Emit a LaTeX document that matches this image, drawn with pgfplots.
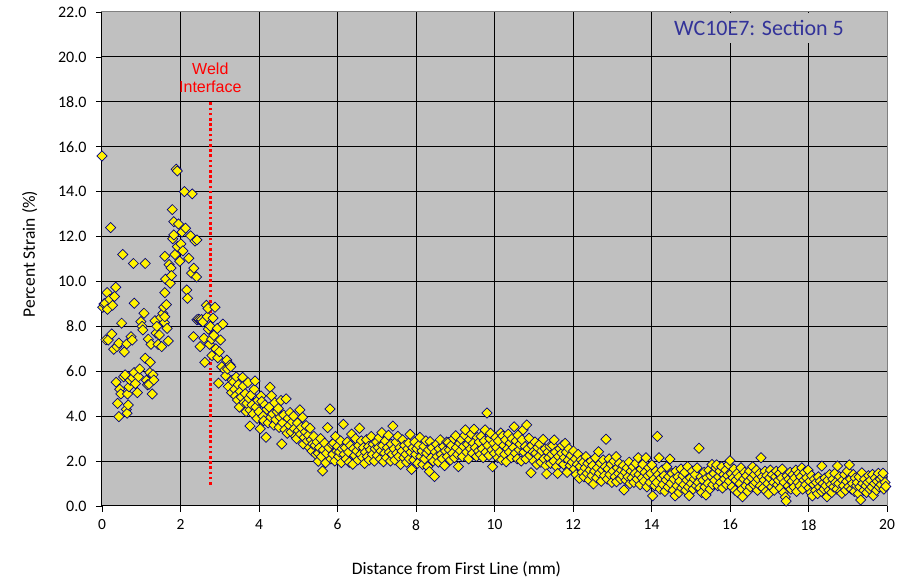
\documentclass[border=0pt]{standalone}
\usepackage{pgfplots}
\pgfplotsset{compat=1.18}
\usepackage{pgfplotstable}
\usepackage{fontspec}
\setmainfont{Carlito}
\newfontfamily\arialfont{Liberation Sans}

\definecolor{plotbg}{RGB}{192,192,192}
\definecolor{framegray}{RGB}{128,128,128}
\definecolor{marknavy}{RGB}{0,0,128}
\definecolor{titleblue}{RGB}{51,51,153}

% strain readings along the line, x in mm, y in percent
\pgfplotstableread{
x y
0.00 15.59
0.02 8.85
0.05 9.00
0.08 9.03
0.10 7.40
0.13 9.50
0.14 8.76
0.16 7.39
0.20 9.20
0.22 12.40
0.25 7.66
0.27 8.94
0.30 6.98
0.32 9.33
0.35 9.74
0.36 5.51
0.38 7.10
0.40 4.57
0.43 7.25
0.43 3.98
0.45 5.20
0.48 4.99
0.50 8.14
0.53 11.20
0.55 5.75
0.57 6.86
0.59 5.84
0.62 4.30
0.63 7.22
0.64 4.13
0.65 4.99
0.67 4.50
0.69 5.31
0.72 5.60
0.74 7.54
0.77 7.39
0.78 5.71
0.80 10.80
0.82 9.03
0.82 5.94
0.85 5.45
0.90 5.05
0.93 5.76
0.96 6.10
0.99 8.21
1.02 8.00
1.04 7.84
1.07 8.58
1.10 10.80
1.10 6.58
1.13 5.60
1.16 5.40
1.18 7.43
1.20 5.42
1.22 5.94
1.23 6.40
1.25 7.20
1.28 4.99
1.30 5.85
1.32 5.61
1.35 8.25
1.38 7.70
1.40 8.00
1.43 7.20
1.46 7.62
1.50 8.40
1.52 7.10
1.55 8.58
1.57 8.85
1.59 8.17
1.60 9.50
1.60 8.43
1.60 11.12
1.62 10.10
1.64 8.97
1.66 7.91
1.69 7.35
1.71 10.75
1.74 9.92
1.76 10.60
1.77 10.26
1.79 13.20
1.80 11.90
1.83 12.66
1.83 12.07
1.86 11.20
1.89 15.00
1.92 14.92
1.92 11.55
1.95 12.56
1.98 10.90
2.01 11.67
2.04 12.20
2.06 11.36
2.10 14.00
2.13 12.37
2.16 9.62
2.18 9.25
2.21 11.03
2.26 12.03
2.28 10.37
2.30 13.90
2.33 7.54
2.34 10.59
2.37 11.80
2.41 10.20
2.42 11.85
2.42 8.29
2.45 8.32
2.48 8.30
2.50 7.10
2.52 8.26
2.54 8.30
2.57 8.20
2.60 7.47
2.62 6.40
2.66 8.94
2.68 8.43
2.70 8.80
2.71 7.88
2.74 7.20
2.76 8.00
2.79 7.43
2.80 6.70
2.83 8.37
2.85 7.60
2.88 8.85
2.90 7.00
2.94 7.91
2.95 6.60
2.97 5.47
2.99 6.87
3.02 7.39
3.05 6.20
3.08 8.10
3.13 6.06
3.15 5.80
3.18 6.50
3.20 6.10
3.22 5.32
3.26 6.28
3.28 6.20
3.30 5.05
3.32 5.60
3.35 5.52
3.38 5.20
3.40 4.90
3.42 5.75
3.45 4.72
3.47 5.40
3.50 4.40
3.52 5.10
3.55 4.85
3.58 5.73
3.60 5.34
3.62 4.60
3.65 5.00
3.67 4.20
3.69 4.57
3.72 5.50
3.74 4.80
3.77 4.27
3.77 3.56
3.80 4.95
3.82 4.50
3.85 4.10
3.88 5.20
3.90 5.57
3.92 4.40
3.95 3.90
3.97 4.70
4.00 4.20
4.03 3.44
4.05 4.90
4.07 4.66
4.10 4.00
4.12 3.80
4.15 4.50
4.18 3.06
4.20 4.30
4.23 3.70
4.26 4.40
4.28 5.29
4.30 3.95
4.32 4.91
4.35 4.10
4.38 3.60
4.40 4.60
4.43 3.85
4.46 4.20
4.49 4.34
4.51 3.50
4.54 3.95
4.56 4.70
4.58 2.76
4.60 3.70
4.63 4.05
4.66 3.40
4.69 4.77
4.72 3.24
4.74 3.90
4.77 3.60
4.79 4.16
4.82 3.30
4.85 3.75
4.88 4.00
4.90 3.45
4.93 3.10
4.96 3.00
4.98 3.70
5.00 3.35
5.04 4.28
5.06 3.20
5.08 3.50
5.11 3.95
5.13 2.76
5.15 3.05
5.18 3.30
5.20 3.58
5.23 2.90
5.26 3.15
5.28 2.60
5.30 3.46
5.33 2.95
5.35 2.45
5.37 2.76
5.40 3.10
5.43 2.70
5.45 2.30
5.48 2.85
5.51 2.35
5.51 1.99
5.54 2.60
5.57 3.00
5.59 2.20
5.62 1.56
5.64 2.50
5.67 2.80
5.70 1.93
5.72 2.35
5.75 3.49
5.78 2.60
5.81 4.32
5.83 2.10
5.86 2.75
5.88 2.30
5.90 2.80
5.93 2.00
5.95 3.10
5.98 2.45
6.00 2.65
6.03 2.20
6.05 2.40
6.08 2.90
6.10 1.93
6.12 2.55
6.15 3.64
6.17 2.30
6.20 2.60
6.22 2.10
6.25 2.85
6.28 2.40
6.30 1.95
6.33 2.70
6.36 3.20
6.39 1.86
6.41 2.55
6.44 2.25
6.46 3.00
6.49 2.45
6.52 2.05
6.54 2.70
6.56 3.46
6.59 2.30
6.61 2.90
6.64 2.15
6.66 2.60
6.69 1.90
6.71 2.40
6.74 2.95
6.76 2.20
6.79 2.65
6.81 2.05
6.84 2.50
6.86 3.10
6.89 2.30
6.91 2.75
6.94 2.00
6.96 2.55
6.99 2.85
7.01 2.25
7.04 2.60
7.06 3.05
7.09 2.10
7.11 2.45
7.13 3.27
7.15 2.70
7.17 1.97
7.20 2.35
7.22 2.90
7.25 2.15
7.27 2.60
7.30 3.15
7.32 2.40
7.35 2.00
7.37 2.75
7.39 2.30
7.41 3.56
7.44 2.55
7.46 2.05
7.49 2.85
7.51 2.35
7.54 3.10
7.56 2.20
7.59 2.60
7.61 1.85
7.64 2.45
7.66 2.95
7.69 2.15
7.71 2.70
7.74 2.30
7.76 1.95
7.79 2.55
7.81 2.80
7.83 2.10
7.85 3.19
7.87 2.40
7.89 1.63
7.92 2.60
7.94 2.05
7.97 2.85
7.99 2.30
8.02 2.55
8.04 1.90
8.07 2.70
8.10 3.06
8.12 2.20
8.15 2.45
8.17 1.85
8.20 2.65
8.22 2.10
8.25 2.90
8.27 2.35
8.30 1.75
8.32 2.50
8.34 1.53
8.36 2.87
8.39 2.15
8.41 2.60
8.44 2.00
8.47 1.31
8.49 2.40
8.52 2.75
8.54 2.20
8.57 1.95
8.59 2.55
8.62 2.95
8.64 2.30
8.67 2.10
8.70 2.65
8.73 1.80
8.75 2.45
8.78 2.85
8.80 2.20
8.82 2.83
8.85 2.50
8.88 2.05
8.90 2.70
8.93 2.35
8.96 3.00
8.98 2.15
9.01 3.13
9.03 2.60
9.06 2.30
9.08 1.75
9.11 2.80
9.13 2.45
9.16 2.95
9.18 2.20
9.21 2.65
9.24 3.15
9.26 3.39
9.29 2.40
9.31 2.75
9.34 2.10
9.36 2.95
9.39 2.55
9.41 3.20
9.44 2.35
9.46 2.80
9.48 3.42
9.51 2.60
9.54 2.20
9.56 3.05
9.59 2.45
9.61 2.85
9.64 2.30
9.66 3.10
9.69 2.55
9.71 2.15
9.74 2.90
9.76 3.39
9.78 2.40
9.81 4.14
9.83 2.70
9.86 2.25
9.88 3.00
9.90 3.24
9.93 2.50
9.95 1.75
9.98 2.80
10.00 2.35
10.03 3.05
10.05 2.60
10.08 2.15
10.10 2.90
10.13 2.40
10.16 3.25
10.18 2.05
10.21 3.12
10.23 2.70
10.26 2.30
10.28 2.95
10.30 1.97
10.33 2.55
10.35 3.20
10.38 2.40
10.40 2.80
10.43 2.15
10.45 3.00
10.48 2.60
10.50 3.53
10.53 2.35
10.55 2.90
10.58 2.10
10.60 3.15
10.63 2.50
10.65 2.75
10.68 2.00
10.70 2.95
10.73 3.39
10.75 2.40
10.78 2.65
10.80 2.10
10.82 3.61
10.85 2.55
10.88 3.02
10.90 2.25
10.93 1.48
10.95 2.70
10.98 2.40
11.00 2.00
11.03 2.85
11.05 2.35
11.08 1.85
11.10 2.60
11.13 2.20
11.15 2.75
11.18 1.95
11.20 2.45
11.24 2.97
11.26 2.10
11.29 2.55
11.31 1.80
11.33 1.43
11.36 2.40
11.38 2.15
11.41 2.65
11.43 1.90
11.46 2.30
11.48 2.70
11.51 2.00
11.52 2.94
11.55 2.40
11.58 1.75
11.61 1.45
11.63 2.20
11.66 2.55
11.68 1.95
11.71 2.35
11.73 2.70
11.76 1.85
11.78 2.15
11.80 2.79
11.83 2.40
11.85 1.50
11.88 2.05
11.90 2.55
11.93 1.80
11.95 2.25
11.98 1.95
12.01 2.45
12.03 1.65
12.06 2.10
12.08 1.40
12.11 1.85
12.13 2.30
12.16 1.23
12.18 1.75
12.21 2.05
12.23 1.50
12.26 1.95
12.28 1.30
12.31 1.70
12.33 2.20
12.36 1.45
12.38 1.90
12.41 1.15
12.43 1.60
12.46 2.00
12.48 1.35
12.50 1.80
12.52 0.98
12.55 1.55
12.57 2.15
12.60 1.25
12.62 1.70
12.65 2.42
12.67 1.45
12.70 1.90
12.72 1.10
12.75 1.60
12.77 2.05
12.80 1.35
12.82 1.75
12.84 2.97
12.87 1.20
12.89 1.65
12.92 2.10
12.94 1.40
12.97 1.85
12.99 1.05
13.02 1.55
13.04 2.00
13.07 1.30
13.10 2.20
13.11 1.08
13.13 1.70
13.16 1.45
13.18 1.90
13.21 1.20
13.23 1.60
13.26 1.35
13.28 1.80
13.30 0.71
13.33 1.50
13.35 1.15
13.38 1.70
13.40 1.30
13.43 1.95
13.45 1.00
13.48 1.55
13.50 1.25
13.53 1.75
13.55 1.05
13.58 1.45
13.60 1.90
13.63 1.20
13.66 2.15
13.68 1.40
13.71 0.95
13.73 1.65
13.76 1.25
13.78 1.85
13.81 1.10
13.83 1.50
13.86 2.15
13.88 0.85
13.91 1.35
13.93 1.70
13.96 1.05
13.98 1.45
14.01 1.83
14.03 0.45
14.06 1.20
14.08 0.90
14.11 1.55
14.13 1.05
14.15 3.10
14.17 1.40
14.19 2.15
14.22 0.75
14.24 1.25
14.27 1.60
14.29 0.95
14.32 1.35
14.34 0.65
14.37 1.15
14.39 1.75
14.42 0.85
14.44 1.30
14.47 2.09
14.49 1.00
14.52 1.45
14.55 0.70
14.57 1.20
14.60 0.45
14.62 1.55
14.65 0.90
14.67 1.30
14.70 0.60
14.72 1.10
14.75 1.65
14.77 0.80
14.80 1.35
14.82 0.95
14.85 1.50
14.87 0.70
14.90 1.15
14.92 1.75
14.94 0.85
14.96 0.46
14.99 1.25
15.01 1.00
15.04 1.55
15.06 0.75
15.09 1.20
15.11 1.40
15.14 0.90
15.16 1.70
15.19 1.05
15.21 2.57
15.23 0.80
15.26 1.30
15.28 0.60
15.31 1.15
15.34 1.50
15.36 0.85
15.39 0.49
15.41 1.25
15.44 1.00
15.46 1.60
15.49 0.75
15.51 1.35
15.54 1.85
15.56 0.95
15.59 1.45
15.61 1.15
15.64 1.70
15.66 1.83
15.69 0.90
15.71 1.30
15.74 1.55
15.76 1.05
15.79 1.75
15.81 0.80
15.84 1.40
15.86 1.20
15.89 1.60
15.91 0.95
15.94 1.35
15.96 1.85
15.98 1.10
16.00 2.02
16.03 1.45
16.05 0.85
16.08 1.25
16.10 1.65
16.13 0.70
16.15 1.15
16.18 1.45
16.20 0.60
16.23 1.30
16.25 1.00
16.28 1.70
16.30 0.75
16.32 0.41
16.35 1.20
16.37 1.50
16.40 0.90
16.42 1.35
16.45 0.65
16.47 1.10
16.50 1.55
16.52 0.85
16.55 1.25
16.58 1.75
16.60 0.95
16.62 1.40
16.65 1.05
16.67 1.60
16.70 0.70
16.72 1.20
16.75 1.45
16.77 0.90
16.79 2.15
16.82 1.30
16.84 0.80
16.87 1.15
16.89 1.55
16.92 0.65
16.94 1.35
16.96 1.00
16.98 0.53
17.01 1.25
17.03 1.60
17.06 0.85
17.08 1.40
17.11 1.05
17.13 0.70
17.16 1.30
17.18 1.55
17.21 0.95
17.23 1.15
17.26 1.45
17.28 0.80
17.31 1.25
17.33 1.65
17.36 0.60
17.38 1.05
17.41 0.40
17.43 0.22
17.45 1.35
17.48 0.90
17.50 1.20
17.53 1.50
17.55 0.75
17.58 1.10
17.60 1.40
17.63 0.85
17.65 1.25
17.68 1.60
17.70 0.65
17.73 1.05
17.75 1.45
17.78 0.90
17.80 1.30
17.83 1.70
17.85 0.75
17.88 1.15
17.90 1.50
17.93 0.95
17.95 1.25
17.99 1.60
18.01 0.80
18.03 1.10
18.06 0.60
18.08 1.35
18.10 0.45
18.13 0.95
18.15 1.20
18.18 0.70
18.20 1.05
18.23 0.55
18.25 1.30
18.28 0.85
18.30 1.10
18.33 0.65
18.34 1.78
18.37 1.00
18.39 0.75
18.42 1.25
18.44 0.90
18.47 0.41
18.49 1.15
18.52 0.70
18.54 1.40
18.57 0.95
18.59 0.60
18.62 1.20
18.64 0.85
18.67 1.45
18.69 1.05
18.72 0.75
18.74 1.78
18.77 1.00
18.79 1.30
18.82 0.65
18.85 0.56
18.87 1.15
18.89 0.90
18.92 1.40
18.94 0.70
18.97 1.10
18.99 1.55
19.02 0.85
19.04 1.83
19.07 1.20
19.09 0.75
19.12 1.00
19.14 1.40
19.17 0.65
19.19 1.25
19.22 0.90
19.24 1.05
19.27 0.55
19.29 1.30
19.31 0.85
19.33 0.27
19.36 1.48
19.38 1.00
19.41 0.70
19.43 1.20
19.46 0.90
19.48 0.60
19.51 1.05
19.53 1.35
19.56 0.75
19.58 1.15
19.61 0.85
19.63 1.40
19.65 0.47
19.68 1.00
19.70 1.25
19.73 0.70
19.75 1.10
19.78 1.45
19.80 0.85
19.83 1.20
19.85 0.95
19.88 1.30
19.90 1.46
19.92 0.75
19.95 1.05
19.97 0.87
}\straindata

\begin{document}
\begin{tikzpicture}
\useasboundingbox (-102pt,-72pt) rectangle (811pt,506pt);
\begin{axis}[
  scale only axis,
  width=785pt, height=494pt,
  xmin=0, xmax=20, ymin=0, ymax=22,
  xtick={0,2,...,20}, ytick={0,2,...,22},
  tick pos=left,
  tick align=outside,
  major tick length=6pt,
  tick style={black, line width=0.8pt},
  grid=major,
  major grid style={black, line width=1pt},
  axis line style={framegray, line width=1pt},
  axis background/.style={fill=plotbg},
  /pgf/number format/assume math mode=true,
  y tick label style={/pgf/number format/.cd, fixed, fixed zerofill, precision=1,
    /tikz/.cd, font=\fontsize{16}{18}\selectfont, black, xshift=-6pt},
  x tick label style={font=\fontsize{15.5}{18}\selectfont, black, yshift=-4pt},
  xlabel={Distance from First Line (mm)},
  ylabel={Percent Strain (\%)},
  xlabel style={at={(axis description cs:0.4516,0)}, anchor=base, yshift=-69pt,
    font=\fontsize{17.5}{20}\selectfont},
  ylabel style={at={(axis description cs:-0.0854,0.51)}, anchor=base,
    font=\fontsize{17.5}{20}\selectfont},
  clip=false,
]
\addplot[only marks, mark=square*, mark size=3.6pt,
  mark options={rotate=45, fill=yellow, draw=marknavy, line width=0.7pt}]
  table[x=x, y=y] {\straindata};

% weld interface marker
\addplot[red, line width=2.7pt, dash pattern=on 2.6pt off 2.6pt]
  coordinates {(2.77,0.95) (2.77,18.0)};
\node[red, font=\arialfont\fontsize{16}{17.3}\selectfont, align=center, anchor=base]
  at (axis cs:2.76,18.43) {Weld\\Interface};

% section title on its own patch of background
\fill[plotbg] (axis cs:14.1,20.62) rectangle (axis cs:19.97,21.97);
\node[titleblue, font=\fontsize{22}{24}\selectfont, anchor=base]
  at (axis cs:16.74,20.95) {WC10E7: Section 5};

\draw[black, line width=1pt] (rel axis cs:0,1) -- (rel axis cs:0,0) -- (rel axis cs:1,0);
\end{axis}
\end{tikzpicture}
\end{document}
